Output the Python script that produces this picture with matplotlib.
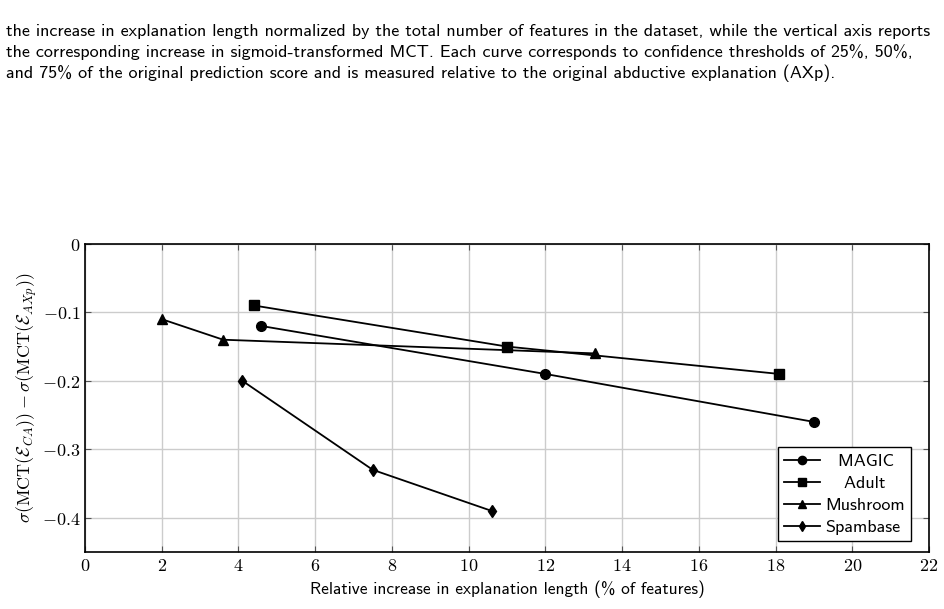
import numpy as np
import matplotlib
matplotlib.use("Agg")
from matplotlib import pyplot as plt

plt.rcParams["mathtext.fontset"] = "cm"

# data
magic_x = [4.6, 12.0, 19.0]
magic_y = [-0.12, -0.19, -0.26]
adult_x = [4.4, 11.0, 18.1]
adult_y = [-0.09, -0.15, -0.19]
mush_x = [2.0, 3.6, 13.3]
mush_y = [-0.11, -0.14, -0.16]
spam_x = [4.1, 7.5, 10.6]
spam_y = [-0.20, -0.33, -0.39]

xticks = list(range(0, 23, 2))
yticks = [0, -0.1, -0.2, -0.3, -0.4]

caption = [
    "the increase in explanation length normalized by the total number of features in the dataset, while the vertical axis reports",
    "the corresponding increase in sigmoid-transformed MCT. Each curve corresponds to confidence thresholds of 25%, 50%,",
    "and 75% of the original prediction score and is measured relative to the original abductive explanation (AXp).",
]

fig = plt.figure(figsize=(9.45, 6.09), dpi=100)
ax = fig.add_axes([0.090, 0.0936, 0.893, 0.506])

kw = dict(color="black", lw=1.3)
ax.plot(magic_x, magic_y, marker="o", ms=7, label="  MAGIC", **kw)
ax.plot(adult_x, adult_y, marker="s", ms=7, label="   Adult", **kw)
ax.plot(mush_x, mush_y, marker="^", ms=7, label="Mushroom", **kw)
ax.plot(spam_x, spam_y, marker="d", ms=6, label="Spambase", **kw)

ax.set_xlim(0, 22)
ax.set_ylim(-0.45, 0)
ax.set_xticks(xticks)
ax.set_xticklabels(["$%d$" % t for t in xticks], fontsize=13)
ax.set_yticks(yticks)
ax.set_yticklabels(["$0$"] + ["$-%.1f$" % abs(t) for t in yticks[1:]], fontsize=13)
ax.grid(True, color="#cccccc", lw=1)
ax.set_axisbelow(True)
ax.tick_params(direction="in", length=4, top=True, right=True, color="#555555")
for s in ax.spines.values():
    s.set_color("black")
    s.set_linewidth(1.2)

ax.set_xlabel("Relative increase in explanation length (% of features)",
              family="cmss10", fontsize=12.5)
ax.set_ylabel(r"$\sigma(\mathrm{MCT}(\mathcal{E}_{CA})) - \sigma(\mathrm{MCT}(\mathcal{E}_{AXp}))$",
              fontsize=13, labelpad=2)

leg = ax.legend(loc="lower right", prop={"family": "cmss10", "size": 13},
                fancybox=False, edgecolor="black", framealpha=1,
                handlelength=2.0, handletextpad=0.3, borderpad=0.35,
                labelspacing=0.35, markerscale=0.85,
                bbox_to_anchor=(0.99, 0.005))
leg.get_frame().set_linewidth(1)

y = 0.949
for line in caption:
    fig.text(0.006, y, line, family="cmss10", fontsize=13, va="center")
    y -= 0.0345

fig.savefig("out.png", dpi=100)
